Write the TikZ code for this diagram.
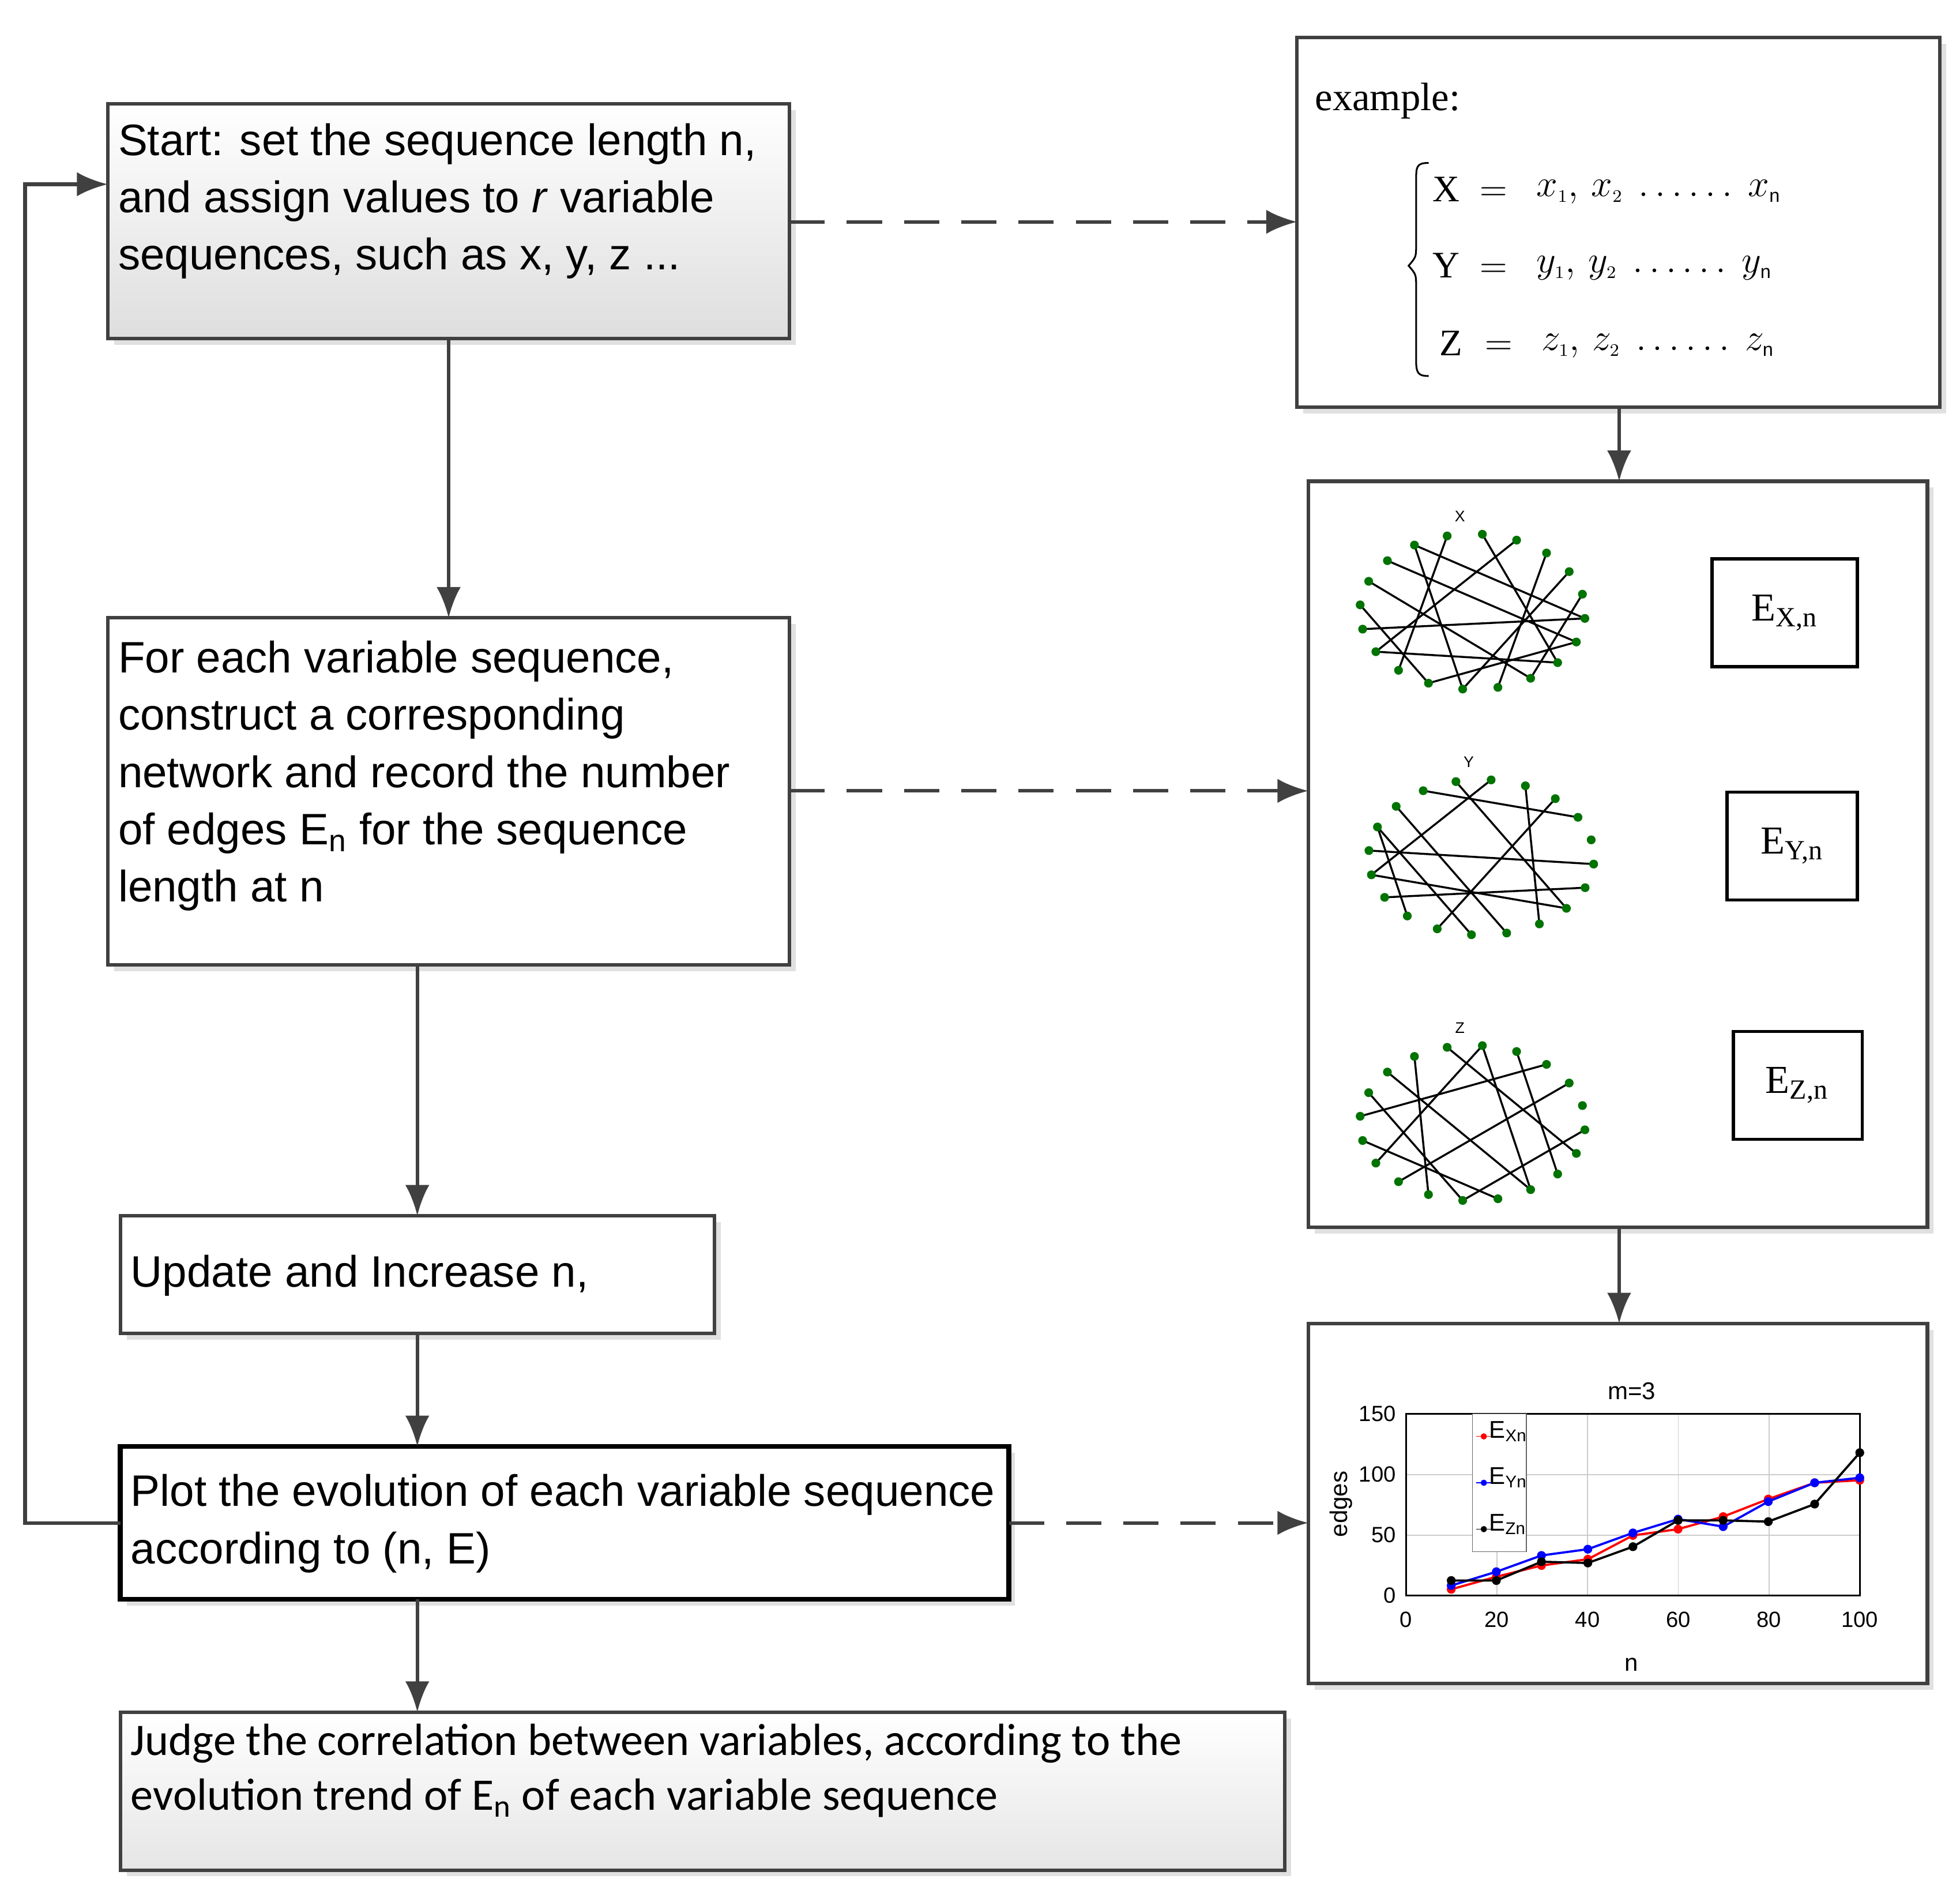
\documentclass[tikz,border=0pt]{standalone}
\usepackage{fontspec}
\setmainfont{Liberation Sans}
\newfontfamily\calib{Carlito}
\newfontfamily\serif{Liberation Serif}
\usetikzlibrary{arrows.meta}
\begin{document}
\begin{tikzpicture}[x=0.02cm,y=-0.02cm,
  box/.style={draw=black!75,line width=1.6pt},
  sh/.style={fill=black!12,draw=none},
  arr/.style={draw=black!75,line width=1.6pt,-{Latex[length=14pt,width=11pt]}},
  darr/.style={arr,dash pattern=on 16pt off 10pt},
  txt/.style={anchor=north west,inner sep=0pt,align=left,font=\fontsize{20}{26}\selectfont},
  dot/.style={circle,fill=green!45!black,inner sep=0pt,minimum size=4pt}]
\useasboundingbox (0,0) rectangle (1564,1514);
% shadows
\foreach \a/\b/\c/\d in {86/83/630/270,1035/30/1548/325,1044/384/1538/979,1044/1056/1538/1343,86/493/630/770,96/970/570/1064,96/1154/805/1276,96/1366/1025/1492}
  \fill[sh] (\a+5,\b+5) rectangle (\c+5,\d+5);
% boxes
\shade[top color=white,bottom color=black!13] (86,83) rectangle (630,270);
\draw[box] (86,83) rectangle (630,270);
\fill[white] (1035,30) rectangle (1548,325); \draw[box] (1035,30) rectangle (1548,325);
\fill[white] (1044,384) rectangle (1538,979); \draw[box] (1044,384) rectangle (1538,979);
\fill[white] (1044,1056) rectangle (1538,1343); \draw[box] (1044,1056) rectangle (1538,1343);
\fill[white] (86,493) rectangle (630,770); \draw[box] (86,493) rectangle (630,770);
\fill[white] (96,970) rectangle (570,1064); \draw[box] (96,970) rectangle (570,1064);
\fill[white] (96,1154) rectangle (805,1276); \draw[line width=2.2pt] (96,1154) rectangle (805,1276);
\shade[top color=white,bottom color=black!10] (96,1366) rectangle (1025,1492);
\draw[box] (96,1366) rectangle (1025,1492);
% texts
\node[txt] (t1) at (94,98) {Start: set the sequence length n,\\and assign values to \textit{r} variable\\sequences, such as x, y, z ...};
\node[txt] (t2) at (94,511) {For each variable sequence,\\construct a corresponding\\network and record the number\\of edges E\textsubscript{n} for the sequence\\length at n};
\node[txt] (t3) at (104,1001) {Update and Increase n,};
\node[txt] (t4) at (104,1176) {Plot the evolution of each variable sequence\\according to (n, E)};
\node[txt,font=\calib\fontsize{20.5}{25}\selectfont] (t5) at (104,1375) {Judge the correlation between variables, according to the\\evolution trend of E\textsubscript{n} of each variable sequence};
% example
\node[txt,font=\serif\fontsize{18}{22}\selectfont] at (1049,66) {example:};
\draw[line width=0.8pt] (1140,130) .. controls (1130,130) and (1130,133) .. (1130,145) -- (1130,195) .. controls (1130,205) .. (1124,212) .. controls (1130,219) .. (1130,229) -- (1130,288) .. controls (1130,298) and (1132,300) .. (1140,300);
\begin{scope}[font=\serif\fontsize{17}{20}\selectfont]
\node at (1154,151) {X}; \node at (1192,155) {$=$};
\node[anchor=west] at (1220,153) {$x_{\scriptscriptstyle 1},\, x_{\scriptscriptstyle 2}\ \ldots\ldots\ x_{\scriptscriptstyle\mathrm{n}}$};
\node at (1154,212) {Y}; \node at (1192,216) {$=$};
\node[anchor=west] at (1220,214) {$y_{\scriptscriptstyle 1},\, y_{\scriptscriptstyle 2}\ \ldots\ldots\ y_{\scriptscriptstyle\mathrm{n}}$};
\node at (1158,274) {Z}; \node at (1196,278) {$=$};
\node[anchor=west] at (1224,276) {$z_{\scriptscriptstyle 1},\, z_{\scriptscriptstyle 2}\ \ldots\ldots\ z_{\scriptscriptstyle\mathrm{n}}$};
\end{scope}
% E boxes
\draw[line width=1.5pt] (1366,446) rectangle (1482,532);
\node[font=\serif\fontsize{18}{20}\selectfont] at (1424,489) {E\textsubscript{X,n}};
\draw[line width=1.5pt] (1378,632) rectangle (1482,718);
\node[font=\serif\fontsize{18}{20}\selectfont] at (1430,675) {E\textsubscript{Y,n}};
\draw[line width=1.5pt] (1383,823) rectangle (1486,909);
\node[font=\serif\fontsize{18}{20}\selectfont] at (1434,866) {E\textsubscript{Z,n}};
% networks
\foreach \cx/\cy/\lab/\pairs in {1175/488/X/{0/9,1/12,2/15,3/11,4/17,5/13,6/10,7/14,8/16,0/13,2/8,5/18,1/6,3/19},
   1182/684/Y/{0/10,1/8,2/14,3/16,4/12,6/17,7/11,9/15,13/18,5/11,2/9},
   1175/896/Z/{1/14,2/16,3/12,4/9,5/11,6/13,7/18,8/15,10/17,0/5,3/15}}{
  \node[font=\fontsize{7}{8}\selectfont] at (\cx-10,\cy-76) {\lab};
  \foreach \k in {0,...,19} \coordinate (p\k) at ({\cx+90*cos(18*\k+5)},{\cy+62*sin(18*\k+5)});
  \foreach \u/\v in \pairs \draw[line width=0.9pt] (p\u) -- (p\v);
  \foreach \k in {0,...,19} \node[dot] at (p\k) {};
}
% chart
\node[font=\fontsize{11}{12}\selectfont] at (1302,1110) {m=3};
\draw[black!20,line width=0.5pt] \foreach \i in {1,...,4} {(1122+\i*72.4,1128) -- (1122+\i*72.4,1273)}
  \foreach \j in {1,2} {(1122,1273-\j*48.3) -- (1484,1273-\j*48.3)};
\draw[line width=0.8pt] (1122,1128) rectangle (1484,1273);
\foreach \j in {0,50,100,150} \node[anchor=east,font=\fontsize{10}{12}\selectfont] at (1120,1273-\j*0.967) {\j};
\foreach \i in {0,20,40,60,80,100} \node[anchor=north,font=\fontsize{10}{12}\selectfont] at (1122+\i*3.62,1280) {\i};
\node[rotate=90,font=\fontsize{11}{12}\selectfont] at (1070,1200) {edges};
\node[font=\fontsize{11}{12}\selectfont] at (1302,1328) {n};
\draw[red,line width=1pt] plot[mark=*,mark size=1.5pt] coordinates {(1158,1268)(1194,1258)(1230,1249)(1267,1244)(1303,1225)(1339,1220)(1375,1210)(1411,1196)(1448,1183)(1484,1181)};
\draw[blue,line width=1pt] plot[mark=*,mark size=1.5pt] coordinates {(1158,1265)(1194,1254)(1230,1241)(1267,1236)(1303,1223)(1339,1212)(1375,1218)(1411,1198)(1448,1183)(1484,1179)};
\draw[black,line width=1pt] plot[mark=*,mark size=1.5pt] coordinates {(1158,1261)(1194,1261)(1230,1246)(1267,1247)(1303,1234)(1339,1213)(1375,1213)(1411,1214)(1448,1200)(1484,1159)};
\fill[white] (1175,1128) rectangle (1218,1238); \draw[black!60] (1175,1128) rectangle (1218,1238);
\foreach \c/\s/\yy in {red/Xn/1146,blue/Yn/1183,black/Zn/1220}{
  \draw[\c] (1178,\yy) -- (1190,\yy); \fill[\c] (1184,\yy) circle (2.5);
  \node[anchor=west,inner sep=0pt,font=\fontsize{11}{12}\selectfont] at (1188,\yy-4) {E\textsubscript{\s}};}
% connectors
\coordinate (s1) at (358,270); \coordinate (s2) at (358,493);
\draw[arr] (s1) -- (s2);
\coordinate (b2) at (333,770); \coordinate (u1) at (333,970);
\draw[arr] (b2) -- (u1);
\coordinate (u2) at (333,1064); \coordinate (p1) at (333,1154);
\draw[arr] (u2) -- (p1);
\coordinate (p2) at (333,1276); \coordinate (j1) at (333,1366);
\draw[arr] (p2) -- (j1);
\coordinate (pl) at (96,1215); \coordinate (sl) at (86,147);
\draw[arr] (pl) -- (20,1215) -- (20,147) -- (sl);
\coordinate (d1) at (630,177); \coordinate (d2) at (1035,177);
\draw[darr] (d1) -- (d2);
\coordinate (d3) at (630,631); \coordinate (d4) at (1044,631);
\draw[darr] (d3) -- (d4);
\coordinate (d5) at (805,1215); \coordinate (d6) at (1044,1215);
\draw[darr] (d5) -- (d6);
\coordinate (e1) at (1292,325); \coordinate (e2) at (1292,384);
\draw[arr] (e1) -- (e2);
\coordinate (n1) at (1292,979); \coordinate (n2) at (1292,1056);
\draw[arr] (n1) -- (n2);
\end{tikzpicture}
\end{document}
